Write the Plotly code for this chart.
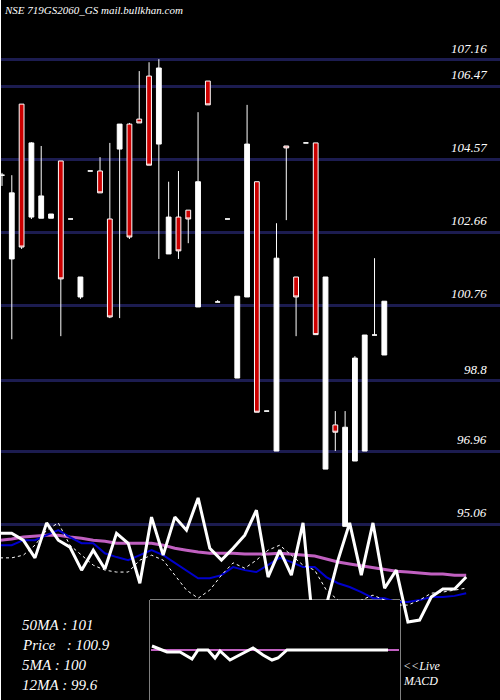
import plotly.graph_objects as go

# ---- price candles ----
idx = list(range(1, 41))
opens = [104.15,101.97,106.00,103.06,103.03,103.03,104.52,103.01,100.98,104.26,
         104.26,103.01,104.83,105.48,105.61,106.73,104.96,102.10,103.06,103.24,
         100.72,106.60,100.85,103.01,98.87,100.98,103.98,98.01,96.97,104.91,
         101.50,104.99,104.99,96.50,97.65,95.01,96.71,96.97,99.99,99.47]
highs = [104.21,104.15,106.00,105.01,104.91,103.14,104.52,103.01,101.50,104.26,
         104.62,104.99,105.48,105.51,106.86,107.09,107.17,103.98,104.26,103.24,
         105.79,106.60,100.90,103.01,101.00,105.98,103.98,98.01,102.90,104.91,
         101.50,104.99,104.99,101.50,98.01,98.01,99.44,99.99,101.99,100.87]
lows = [103.87,99.88,102.23,103.01,103.03,103.03,99.96,103.01,100.93,104.26,
        103.69,100.43,100.43,102.49,105.51,104.41,101.97,102.10,101.97,102.38,
        100.72,105.98,100.85,103.01,98.87,100.98,97.98,98.01,96.97,102.98,
        99.96,104.99,99.99,96.50,96.97,95.01,96.71,96.97,99.99,99.47]
closes = [104.15,103.69,102.28,104.99,103.61,103.14,101.45,103.01,101.50,104.26,
          103.69,100.46,105.48,102.54,105.51,104.41,106.94,103.06,102.18,103.01,
          103.98,105.98,100.85,103.01,101.00,104.96,97.98,98.01,101.99,104.86,
          100.98,104.99,100.00,101.50,97.46,97.59,99.39,99.99,99.99,100.87]

levels = [107.16, 106.47, 104.57, 102.66, 100.76, 98.8, 96.96, 95.06]
level_labels = ["107.16", "106.47", "104.57", "102.66", "100.76", "98.8", "96.96", "95.06"]

# ---- moving average lines (same price scale) ----
k = list(range(41))
price_line = [94.83,94.83,94.65,94.19,95.10,94.65,94.47,93.87,94.39,93.90,94.83,94.57,93.53,95.25,
              94.26,95.25,94.91,95.75,94.44,94.13,94.44,94.78,95.43,93.69,94.39,93.74,95.10,92.0,
              92.96,94.13,95.10,93.74,95.10,93.40,93.87,92.52,92.57,93.17,93.38,93.38,93.69]
ma_blue = [94.52,94.52,94.65,94.65,94.78,94.91,94.73,94.57,94.57,94.31,94.21,94.13,94.26,94.39,
           94.26,94.06,93.87,93.66,93.66,93.74,93.95,93.87,93.82,94.00,94.19,94.08,93.95,93.95,
           93.69,93.53,93.43,93.30,93.14,93.14,93.04,93.04,93.09,93.17,93.17,93.20,93.27]
ma_pink = [94.65,94.68,94.73,94.76,94.78,94.78,94.73,94.70,94.65,94.62,94.57,94.57,94.57,94.57,
           94.52,94.44,94.39,94.34,94.31,94.31,94.31,94.29,94.29,94.29,94.31,94.29,94.26,94.24,
           94.16,94.08,94.03,93.98,93.92,93.87,93.84,93.82,93.79,93.77,93.77,93.74,93.74]
ma_dot = [94.19,94.19,94.26,94.52,94.91,95.10,94.52,94.26,94.00,93.87,93.82,93.82,94.13,94.26,
          94.13,93.74,93.35,93.14,93.35,93.74,94.06,93.92,94.13,94.39,94.52,94.26,94.00,93.87,
          93.35,93.09,92.83,93.09,93.22,93.09,92.96,92.96,93.09,93.27,93.30,93.35,93.40]

# ---- MACD ----
macd_x = [152,167,180,192,198,208,215,220,230,242,253,263,272,278,287,388]
macd_line = [0.4,-0.2,-0.2,-0.9,0,0,-0.8,-0.1,-1.0,-0.4,0.2,-0.5,-1.0,-0.8,0,0]
signal_x = [151, 399]
signal_line = [0, 0]

serif = "Liberation Serif"
fig = go.Figure()
fig.add_trace(go.Candlestick(
    x=idx, open=opens, high=highs, low=lows, close=closes,
    increasing=dict(line=dict(color="white", width=1), fillcolor="white"),
    decreasing=dict(line=dict(color="white", width=1), fillcolor="#cc0000"),
    whiskerwidth=0, showlegend=False, hoverinfo="skip"))

fig.add_trace(go.Scatter(x=k, y=ma_pink, xaxis="x2", yaxis="y", mode="lines",
                         line=dict(color="#c060c0", width=3), showlegend=False))
fig.add_trace(go.Scatter(x=k, y=ma_blue, xaxis="x2", yaxis="y", mode="lines",
                         line=dict(color="#0000cc", width=2), showlegend=False))
fig.add_trace(go.Scatter(x=k, y=ma_dot, xaxis="x2", yaxis="y", mode="lines",
                         line=dict(color="white", width=1, dash="dot"), showlegend=False))
fig.add_trace(go.Scatter(x=k, y=price_line, xaxis="x2", yaxis="y", mode="lines",
                         line=dict(color="white", width=3), showlegend=False))

fig.add_trace(go.Scatter(x=signal_x, y=signal_line, xaxis="x3", yaxis="y3", mode="lines",
                         line=dict(color="#c060c0", width=2), showlegend=False))
fig.add_trace(go.Scatter(x=macd_x, y=macd_line, xaxis="x3", yaxis="y3", mode="lines",
                         line=dict(color="white", width=3), showlegend=False))

annotations = [dict(text="NSE 719GS2060_GS mail.bullkhan.com", x=0.003, y=0.997, xref="paper", yref="paper",
                    xanchor="left", yanchor="top", showarrow=False,
                    font=dict(family=serif, size=11, color="white", style="italic"))]
for lv, lb in zip(levels, level_labels):
    annotations.append(dict(text=lb, x=0.978, y=lv, xref="paper", yref="y", xanchor="right",
                            yanchor="bottom", yshift=2, showarrow=False,
                            font=dict(family=serif, size=13, color="white", style="italic")))
for i, t in enumerate(["50MA : 101", "Price   : 100.9", "5MA : 100", "12MA : 99.6"]):
    annotations.append(dict(text=t, x=0.04, y=(700 - 625 - 20 * i) / 700, xref="paper", yref="paper",
                            xanchor="left", yanchor="middle", showarrow=False,
                            font=dict(family=serif, size=15, color="white", style="italic")))
for i, t in enumerate(["<<Live", "MACD"]):
    annotations.append(dict(text=t, x=0.802, y=(700 - 666 - 15 * i) / 700, xref="paper", yref="paper",
                            xanchor="left", yanchor="middle", showarrow=False,
                            font=dict(family=serif, size=12, color="white", style="italic")))

fig.update_layout(
    width=500, height=700, margin=dict(l=0, r=0, t=0, b=0),
    paper_bgcolor="black", plot_bgcolor="black",
    xaxis=dict(range=[0.796, 51.8], visible=False, rangeslider=dict(visible=False)),
    xaxis2=dict(range=[0, 42.9], overlaying="x", visible=False),
    yaxis=dict(range=[90.49, 108.71], tickvals=levels, showticklabels=False, showgrid=True,
               gridcolor="#1c1c50", gridwidth=3, zeroline=False, showline=False, ticks=""),
    xaxis3=dict(domain=[0.3, 0.8], range=[150, 400], visible=False, anchor="y3"),
    yaxis3=dict(domain=[0, 100 / 700], range=[-5, 5], visible=False, anchor="x3"),
    shapes=[dict(type="rect", xref="paper", yref="paper", x0=0.3, x1=0.8, y0=-0.01, y1=100 / 700,
                 fillcolor="black", line=dict(color="white", width=1), layer="below"),
            dict(type="line", xref="paper", yref="paper", x0=0.001, x1=0.001, y0=0, y1=1,
                 line=dict(color="white", width=1))],
    annotations=annotations,
)
fig.write_html("out.html", config={"displayModeBar": False})
with open("out.html", encoding="utf-8") as f:
    html = f.read()
html = html.replace("<head>", "<head><style>html,body{margin:0;padding:0;background:black;overflow:hidden}</style>", 1)
with open("out.html", "w", encoding="utf-8") as f:
    f.write(html)
